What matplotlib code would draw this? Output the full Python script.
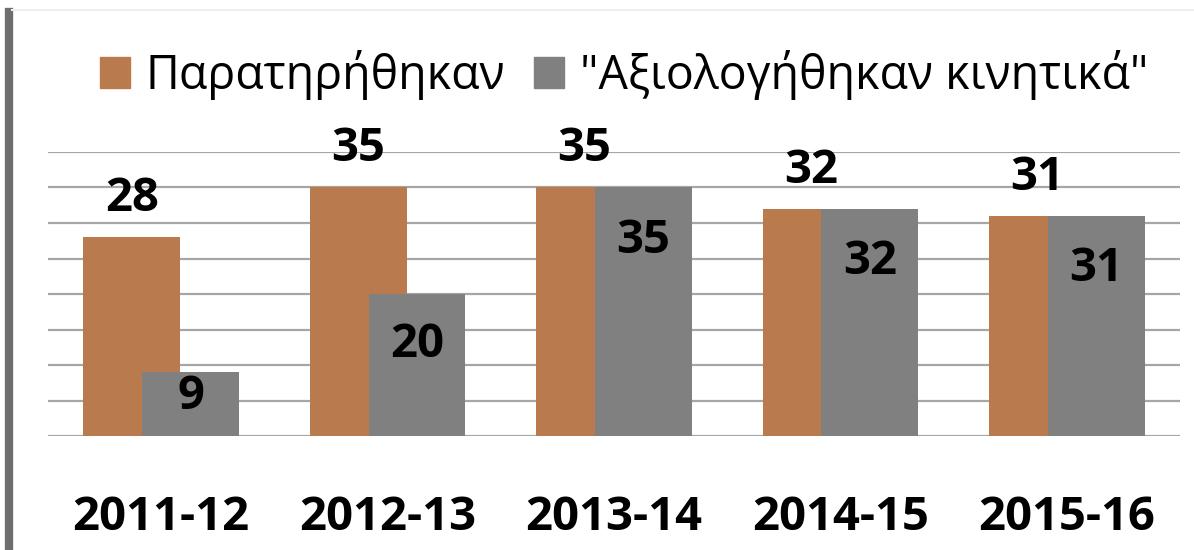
import numpy as np
import matplotlib.pyplot as plt
from matplotlib.patches import Patch
from matplotlib.lines import Line2D

# -----------------------------------------------------------------------------
years = ['2011-12', '2012-13', '2013-14', '2014-15', '2015-16']
observed = [28, 35, 35, 32, 31]
assessed = [9, 20, 35, 32, 31]
series_names = ['Παρατηρήθηκαν', '"Αξιολογήθηκαν κινητικά"']

orange = '#B97B4E'
grey = '#808080'

plt.rcParams['font.family'] = ['Open Sans', 'DejaVu Sans']
fs = 34

# -----------------------------------------------------------------------------
fig = plt.figure(figsize=(11.94, 5.5), dpi=100)
ax = fig.add_axes([48 / 1194, 114 / 550, 1132 / 1194, 284 / 550])

x = np.arange(len(years))
width = 0.428
shift = 0.13

b1 = ax.bar(x - shift, observed, width, color=orange, zorder=2)
b2 = ax.bar(x + shift, assessed, width, color=grey, zorder=3)

# labels: outside end for the first series, inside end for the second
for rect, v in zip(b1, observed):
    ax.text(rect.get_x() + rect.get_width() / 2, v + 3.7, str(v),
            ha='center', va='baseline', fontsize=fs, fontweight='bold',
            clip_on=False, zorder=4)
for rect, v in zip(b2, assessed):
    ax.text(rect.get_x() + rect.get_width() / 2, v - min(7.1, 0.34 * v) - 2.1,
            str(v), ha='center', va='baseline', fontsize=fs,
            fontweight='bold', zorder=4)

ax.set_xlim(-0.5, len(years) - 0.5)
ax.set_ylim(0, 40)
ax.set_yticks(np.arange(0, 41, 5))
ax.yaxis.grid(True, color='#A6A6A6', linewidth=1.6, zorder=0)
ax.set_axisbelow(True)
ax.tick_params(left=False, labelleft=False, bottom=False, length=0)
ax.set_xticks(x)
ax.set_xticklabels(years, fontsize=fs, fontweight='bold')
ax.tick_params(axis='x', pad=42)
for s in ax.spines.values():
    s.set_visible(False)

handles = [Patch(color=orange), Patch(color=grey)]
fig.legend(handles, series_names, loc='center',
           bbox_to_anchor=(0.5225, 1 - 75 / 550),
           ncol=2, frameon=False, fontsize=33.5, handlelength=0.65,
           handleheight=0.65, handletextpad=0.33, columnspacing=0.62)

# chart border / shadow
fig.add_artist(Line2D([9 / 1194, 9 / 1194], [0, 1 - 12 / 550], color='#6E6E6E',
                      linewidth=6, transform=fig.transFigure))
fig.add_artist(Line2D([12 / 1194, 1], [1 - 10 / 550, 1 - 10 / 550],
                      color='#EEEEEE', linewidth=1.5,
                      transform=fig.transFigure))

plt.savefig('out.png', dpi=100)
